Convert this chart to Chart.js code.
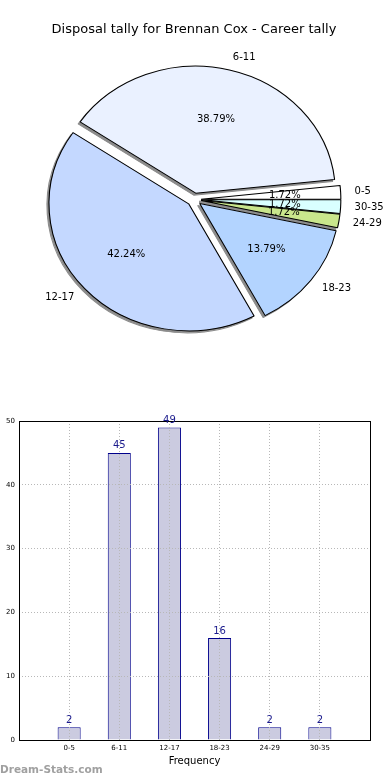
<!DOCTYPE html>
<html>
<head>
<meta charset="utf-8">
<script src="https://cdn.jsdelivr.net/npm/chart.js@4.4.0/dist/chart.umd.min.js"></script>
<style>
    html, body { margin: 0; padding: 0; background: #fff; }
    #wrap { position: relative; width: 390px; height: 780px; overflow: hidden; }
    #pieBox { position: absolute; left: 0; top: 0; width: 390px; height: 390px; }
    #barBox { position: absolute; left: 0; top: 390px; width: 390px; height: 390px; }
    #marca { position: absolute; left: 0; top: 763px; font: bold 10.5px "DejaVu Sans", sans-serif; color: #a0a0a0; }
</style>
</head>
<body>
<div id="wrap">
    <div id="pieBox"><canvas id="pieChart"></canvas></div>
    <div id="barBox"><canvas id="barChart"></canvas></div>
    <div id="marca">Dream-Stats.com</div>
</div>
<script>
const titulo = 'Disposal tally for Brennan Cox - Career tally';
const categorias = ['0-5', '6-11', '12-17', '18-23', '24-29', '30-35'];
const frecuencias = [2, 45, 49, 16, 2, 2];
const coloresPie = ['#ffffff', '#eaf1ff', '#c4d8ff', '#b3d4ff', '#c9e68c', '#d9ffff'];
const ticksY = [0, 10, 20, 30, 40, 50];
const tituloX = 'Frequency';

const fuente = '"DejaVu Sans", sans-serif';
const total = frecuencias.reduce((a, b) => a + b, 0);
const escalaX = 1.10;   // el pie original sale un poco ovalado
const separacion = 6.5; // "explode" de cada porcion

// matplotlib empieza a las 3 en sentido antihorario; Chart.js va en sentido horario
const ordenPie = [5, 4, 3, 2, 1, 0];

const piePlugin = {
    id: 'pieExtras',
    beforeDatasetDraw(chart, args) {
        const ctx = chart.ctx;
        const arcs = args.meta.data;
        const cx = arcs[0].x, cy = arcs[0].y;
        const dibujar = (arc, sombra) => {
            const mid = (arc.startAngle + arc.endAngle) / 2;
            ctx.save();
            if (sombra) ctx.translate(-2, 2);
            ctx.translate(cx, cy);
            ctx.scale(escalaX, 1);
            ctx.translate(-cx, -cy);
            ctx.translate(Math.cos(mid) * separacion, Math.sin(mid) * separacion);
            if (sombra) {
                const o = arc.options;
                arc.options = Object.assign({}, o, { backgroundColor: '#8c8c8c', borderColor: '#8c8c8c' });
                arc.draw(ctx);
                arc.options = o;
            } else {
                arc.draw(ctx);
            }
            ctx.restore();
        };
        arcs.forEach(a => dibujar(a, true));
        arcs.forEach(a => dibujar(a, false));
        return false;
    },
    afterDatasetsDraw(chart) {
        const ctx = chart.ctx;
        const meta = chart.getDatasetMeta(0);
        ctx.save();
        ctx.fillStyle = '#000';
        ctx.font = '10px ' + fuente;
        ctx.textBaseline = 'middle';
        meta.data.forEach((arc, i) => {
            const mid = (arc.startAngle + arc.endAngle) / 2;
            const r = arc.outerRadius;
            const px = k => arc.x + escalaX * Math.cos(mid) * (separacion + r * k);
            const py = k => arc.y + Math.sin(mid) * (separacion + r * k);
            const idx = ordenPie[i];
            ctx.textAlign = Math.cos(mid) > 0 ? 'left' : 'right';
            ctx.fillText(categorias[idx], px(1.1), py(1.1));
            ctx.textAlign = 'center';
            ctx.fillText((frecuencias[idx] / total * 100).toFixed(2) + '%', px(0.6), py(0.6));
        });
        ctx.restore();
    }
};

new Chart(document.getElementById('pieChart').getContext('2d'), {
    type: 'pie',
    data: {
        labels: ordenPie.map(i => categorias[i]),
        datasets: [{
            data: ordenPie.map(i => frecuencias[i]),
            backgroundColor: ordenPie.map(i => coloresPie[i]),
            borderColor: '#000',
            borderWidth: 1,
            radius: 127
        }]
    },
    options: {
        responsive: true,
        maintainAspectRatio: false,
        animation: false,
        rotation: 90,
        layout: { padding: { left: 0, right: 2, top: 0, bottom: 38.6 } },
        plugins: {
            legend: { display: false },
            tooltip: { enabled: false },
            title: {
                display: true,
                text: titulo,
                color: '#000',
                font: { family: fuente, size: 13, weight: 'normal', lineHeight: 1.2 },
                padding: { top: 22, bottom: 10 }
            }
        }
    },
    plugins: [piePlugin]
});

// etiquetas vacias a los lados para dejar el hueco de matplotlib
const etiquetasBar = ['', ...categorias, ''];
const datosBar = [null, ...frecuencias, null];

const barPlugin = {
    id: 'barExtras',
    afterDraw(chart) {
        const ctx = chart.ctx;
        const a = chart.chartArea;
        ctx.save();
        ctx.strokeStyle = '#000';
        ctx.lineWidth = 1;
        ctx.strokeRect(Math.round(a.left) + 0.5, Math.round(a.top) + 0.5, Math.round(a.right - a.left), Math.round(a.bottom - a.top));
        // valores encima de cada barra
        ctx.fillStyle = '#1a1a8c';
        ctx.font = '10px ' + fuente;
        ctx.textAlign = 'center';
        ctx.textBaseline = 'bottom';
        chart.getDatasetMeta(0).data.forEach((bar, i) => {
            const v = datosBar[i];
            if (v === null) return;
            ctx.fillText(String(v), bar.x, bar.y - 2);
        });
        ctx.restore();
    }
};

new Chart(document.getElementById('barChart').getContext('2d'), {
    type: 'bar',
    data: {
        labels: etiquetasBar,
        datasets: [{
            data: datosBar,
            backgroundColor: '#cbcbe0',
            borderColor: '#00008b',
            borderWidth: 1,
            barPercentage: 0.46,
            categoryPercentage: 1
        }]
    },
    options: {
        responsive: true,
        maintainAspectRatio: false,
        animation: false,
        layout: { padding: { left: 0, right: 20, top: 31, bottom: 0 } },
        plugins: {
            legend: { display: false },
            tooltip: { enabled: false }
        },
        scales: {
            x: {
                offset: false,
                grid: { offset: false, z: 1, color: '#b8b8b8', drawTicks: false },
                border: { display: false, dash: [1, 2] },
                ticks: { color: '#000', font: { family: fuente, size: 7 }, padding: 4, autoSkip: false, maxRotation: 0 },
                title: {
                    display: true,
                    text: tituloX,
                    color: '#000',
                    font: { family: fuente, size: 10 },
                    padding: { top: 0, bottom: 13 }
                },
                afterFit: s => { s.height = 40; }
            },
            y: {
                min: 0,
                max: 50,
                afterBuildTicks: s => { s.ticks = ticksY.map(v => ({ value: v })); },
                grid: { z: 1, color: '#b8b8b8', drawTicks: false },
                border: { display: false, dash: [1, 2] },
                ticks: { color: '#000', font: { family: fuente, size: 7 }, padding: 4 },
                afterFit: s => { s.width = 19; }
            }
        }
    },
    plugins: [barPlugin]
});
</script>
</body>
</html>
